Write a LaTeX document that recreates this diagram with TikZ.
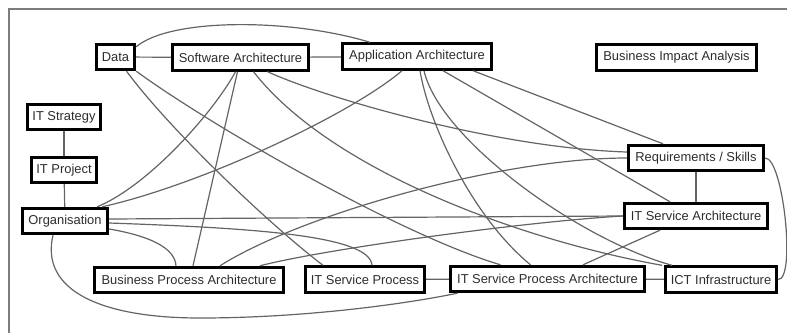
\documentclass[tikz,border=0pt]{standalone}
\usepackage{fontspec}
\setmainfont{Liberation Sans}
\usepackage{xcolor}
\usepackage{tikz}
\definecolor{linkgray}{RGB}{100,100,100}
\definecolor{framegray}{RGB}{125,125,125}
\definecolor{textgray}{RGB}{45,45,45}

\begin{document}
\begin{tikzpicture}[x=1pt,y=-1pt,
  box/.style={draw=black,line width=2.8pt,fill=white,text=textgray,minimum height=25.6pt,inner sep=0pt,font=\fontsize{12.9}{14}\selectfont},
  link/.style={draw=linkgray,line width=1.2pt}]
  \useasboundingbox (0,0) rectangle (787,333);
  \draw[framegray,line width=2pt] (9,333) -- (9,9) -- (787,9);

  \node[box,minimum width=38.6pt] (data) at (115.5,57) {Data};
  \node[box,minimum width=136.6pt] (sa) at (240.5,57.5) {Software Architecture};
  \node[box,minimum width=149.6pt] (aa) at (417,56.5) {Application Architecture};
  \node[box,minimum width=160.6pt] (bia) at (676.5,57.5) {Business Impact Analysis};
  \node[box,minimum width=73.6pt] (its) at (64,117) {IT Strategy};
  \node[box,minimum width=65.6pt] (itp) at (64,170) {IT Project};
  \node[box,minimum width=85.6pt] (org) at (65,221) {Organisation};
  \node[box,minimum width=135.6pt] (req) at (696,158) {Requirements / Skills};
  \node[box,minimum width=143.6pt] (itsa) at (696,216) {IT Service Architecture};
  \node[box,minimum width=189.6pt] (bpa) at (189,280) {Business Process Architecture};
  \node[box,minimum width=119.6pt] (itsp) at (365,279.5) {IT Service Process};
  \node[box,minimum width=194.6pt] (itspa) at (547.5,279) {IT Service Process Architecture};
  \node[box,minimum width=111.6pt] (ict) at (721,279.5) {ICT Infrastructure};

  \draw[link] (data) -- (sa);
  \draw[link] (sa) -- (aa);
  \draw[link] (its) -- (itp);
  \draw[link] (itp) -- (org);
  \draw[link] (req) -- (itsa);
  \draw[link] (itsp) -- (itspa);
  \draw[link] (itspa) -- (ict);
  \draw[link] ([yshift=-4pt]data.north east) .. controls (170,18) and (290,18) .. ([xshift=-47pt]aa.north);
  \draw[link] (req.east) .. controls +(18,0) and +(18,0) .. (ict.east);
  \draw[link] ([xshift=-12pt]org.south) .. controls (40,290) and (100,318) .. (200,318)
    .. controls (300,318) and (400,305) .. ([xshift=-90pt]itspa.south);
  \draw[link] ([yshift=-8pt]org.east) .. controls (150,236) and (175,248) .. ([xshift=-13pt]bpa.north);
  \draw[link] ([yshift=-2pt]org.east) .. controls (250,228) and (370,235) .. ([xshift=7pt]itsp.north);
  \draw[link] ([yshift=2pt]org.east) -- (itsa.west);
  \draw[link] ([xshift=-12pt]org.north east) .. controls (150,185) and (215,110) .. ([xshift=-5pt]sa.south);
  \draw[link] ([xshift=-7pt]org.north east) .. controls (200,185) and (350,115) .. ([xshift=-15pt]aa.south);
  \draw[link] ([xshift=11pt]data.south) .. controls (170,130) and (270,225) .. ([xshift=-42pt]itsp.north);
  \draw[link] (data.south east) .. controls (210,125) and (400,235) .. ([xshift=-47pt]itspa.north);
  \draw[link] ([xshift=-3pt]sa.south) -- ([xshift=4pt]bpa.north);
  \draw[link] ([xshift=13pt]sa.south) .. controls (330,170) and (520,240) .. ([xshift=-59pt]ict.north);
  \draw[link] ([xshift=27pt]sa.south) .. controls (330,100) and (500,148) .. ([yshift=6pt]req.west);
  \draw[link] ([xshift=3pt]aa.south) .. controls (428,120) and (470,215) .. ([xshift=-17pt]itspa.north);
  \draw[link] ([xshift=7pt]aa.south) .. controls (440,140) and (580,240) .. ([xshift=-49pt]ict.north);
  \draw[link] ([xshift=26pt]aa.south) -- ([xshift=-26pt]itsa.north);
  \draw[link] ([xshift=56pt]aa.south) -- ([xshift=-33pt]req.north);
  \draw[link] ([xshift=31pt]bpa.north) .. controls (300,215) and (500,158) .. (req.west);
  \draw[link] ([xshift=71pt]bpa.north) .. controls (320,250) and (520,222) .. (itsa.west);
  \draw[link] ([xshift=-36pt]itsa.south) -- ([xshift=35.5pt]itspa.north);
\end{tikzpicture}
\end{document}
